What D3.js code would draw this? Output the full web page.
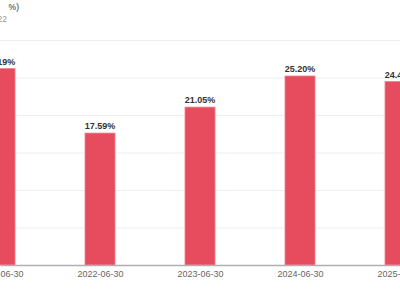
<!DOCTYPE html>
<html>
<head>
<meta charset="utf-8">
<script src="https://cdn.jsdelivr.net/npm/d3@7"></script>
<style>
  body { margin: 0; background: #fff; }
  svg { display: block; font-family: "Liberation Sans", Arial, sans-serif; }
</style>
</head>
<body>
<div id="chart"></div>
<script>
// data
var dates = ["2021-06-30", "2022-06-30", "2023-06-30", "2024-06-30", "2025-06-30"];
var values = [26.19, 17.59, 21.05, 25.20, 24.46];
var yTicks = [0, 5, 10, 15, 20, 25, 30];

var width = 400, height = 300;

var svg = d3.select("#chart")
    .append("svg")
    .attr("width", width)
    .attr("height", height);

// x: one category every 100px, first one centred on the left edge
var x = d3.scalePoint()
    .domain(dates)
    .range([0, 400]);

var y = d3.scaleLinear()
    .domain([0, 30])
    .range([265, 40]);

// grid lines
svg.append("g")
    .selectAll("line")
    .data(yTicks.slice(1))
    .enter()
    .append("line")
    .attr("x1", 0)
    .attr("x2", width)
    .attr("y1", function (d) { return y(d) + 0.5 })
    .attr("y2", function (d) { return y(d) + 0.5 })
    .attr("stroke", "#eeeeee")
    .attr("stroke-width", 1);

// bars
var barW = 30;
svg.append("g")
    .selectAll("rect")
    .data(values)
    .enter()
    .append("rect")
    .attr("x", function (d, i) { return x(dates[i]) - barW / 2 })
    .attr("y", function (d) { return y(d) })
    .attr("width", barW)
    .attr("height", function (d) { return y(0) - y(d) })
    .attr("fill", "#e64c5e")
    .attr("stroke", "#f07f8c")
    .attr("stroke-width", 0.8);

// value labels
svg.append("g")
    .selectAll("text")
    .data(values)
    .enter()
    .append("text")
    .attr("x", function (d, i) { return x(dates[i]) })
    .attr("y", function (d) { return y(d) - 4 })
    .attr("text-anchor", "middle")
    .style("font-size", "9px")
    .style("font-weight", "bold")
    .style("fill", "#333")
    .text(function (d) { return d.toFixed(2) + "%" });

// x axis
var xAxis = svg.append("g")
    .attr("transform", "translate(0," + y(0) + ")")
    .call(d3.axisBottom(x).tickSize(0).tickPadding(6));
xAxis.select(".domain")
    .attr("stroke", "#b0b0b0")
    .attr("stroke-width", 1.5);
xAxis.selectAll("text")
    .style("font-size", "9px")
    .style("fill", "#666")
    .style("font-family", "Liberation Sans, Arial, sans-serif");

// title and subtitle (cut off at the left edge)
svg.append("text")
    .attr("x", 19)
    .attr("y", 10)
    .attr("text-anchor", "end")
    .style("font-size", "8.5px")
    .style("fill", "#333")
    .style("white-space", "pre")
    .text("ROE (        %)");

svg.append("text")
    .attr("x", 7)
    .attr("y", 22)
    .attr("text-anchor", "end")
    .style("font-size", "8.5px")
    .style("fill", "#999")
    .text("2021-2022");
</script>
</body>
</html>
